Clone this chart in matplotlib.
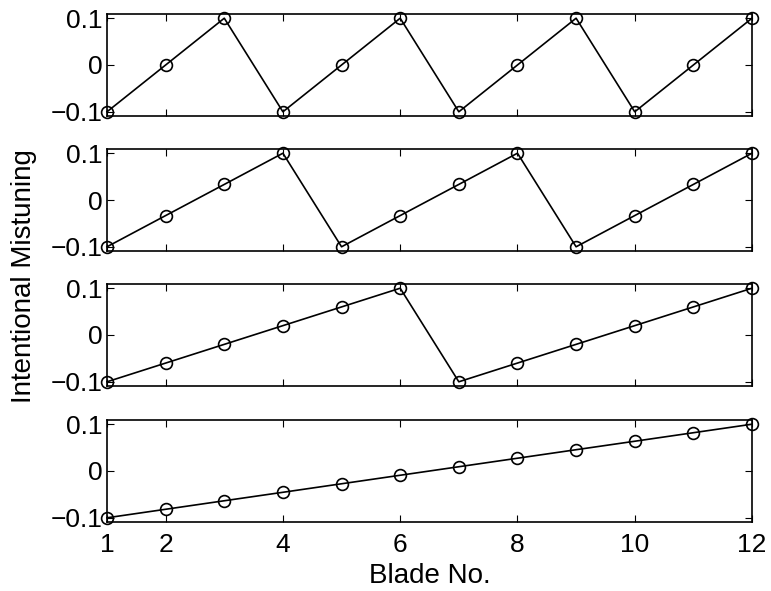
import matplotlib
matplotlib.use('Agg')
import matplotlib.pyplot as plt

plt.rcParams['font.family'] = ['Liberation Sans', 'DejaVu Sans']

blade = [1, 2, 3, 4, 5, 6, 7, 8, 9, 10, 11, 12]
mist_p3 = [-0.1, 0.0, 0.1, -0.1, 0.0, 0.1, -0.1, 0.0, 0.1, -0.1, 0.0, 0.1]
mist_p4 = [-0.1, -0.0333, 0.0333, 0.1, -0.1, -0.0333, 0.0333, 0.1,
           -0.1, -0.0333, 0.0333, 0.1]
mist_p6 = [-0.1, -0.06, -0.02, 0.02, 0.06, 0.1, -0.1, -0.06, -0.02, 0.02, 0.06, 0.1]
mist_p12 = [-0.1, -0.0818, -0.0636, -0.0455, -0.0273, -0.0091, 0.0091,
            0.0273, 0.0455, 0.0636, 0.0818, 0.1]
series = [mist_p3, mist_p4, mist_p6, mist_p12]

xticks = [1, 2, 4, 6, 8, 10, 12]
yticks = [-0.1, 0, 0.1]
ytick_labels = ['\u22120.1', '0', '0.1']

fig = plt.figure(figsize=(7.71, 5.91), dpi=100)
W, H = 771, 591
left, right = 107, 752
tops = [14, 149, 284, 420]
height = 102

for i, (top, vals) in enumerate(zip(tops, series)):
    ax = fig.add_axes([left / W, 1 - (top + height) / H, (right - left) / W, height / H])
    ax.plot(blade, vals, color='black', lw=1.2, marker='o', ms=8.5,
            mfc='none', mec='black', mew=1.2, clip_on=False)
    ax.set_xlim(1, 12)
    ax.set_ylim(-0.109, 0.109)
    ax.set_xticks(xticks)
    ax.set_yticks(yticks)
    ax.set_yticklabels(ytick_labels)
    ax.tick_params(direction='in', top=True, right=True, length=5, width=0.8,
                   labelsize=19)
    ax.tick_params(axis='y', pad=3)
    ax.tick_params(axis='x', pad=8)
    if i < 3:
        ax.set_xticklabels([])
    for s in ax.spines.values():
        s.set_linewidth(1.2)

fig.text((left + right) / 2 / W, 1 - 583 / H, 'Blade No.', fontsize=20,
         ha='center', va='baseline')
fig.text(24 / W, 1 - 276 / H, 'Intentional Mistuning', rotation=90, fontsize=20,
         ha='center', va='center')

fig.savefig('out.png', dpi=100)
